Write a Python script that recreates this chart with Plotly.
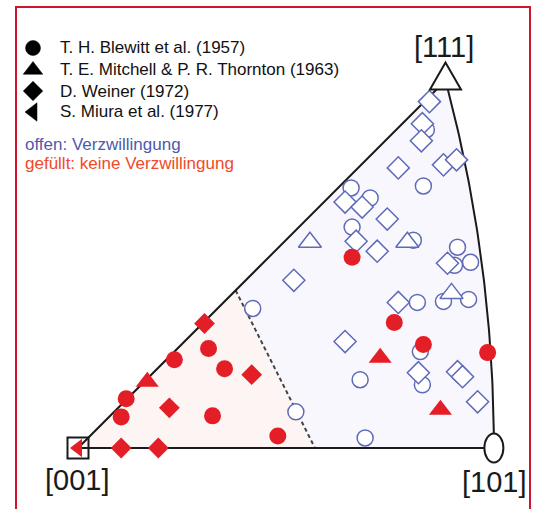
import numpy as np
import plotly.graph_objects as go

# ---------------- data (stereographic coordinates, [001] at origin) ----------------
authors = ["T. H. Blewitt et al. (1957)",
           "T. E. Mitchell & P. R. Thornton (1963)",
           "D. Weiner (1972)",
           "S. Miura et al. (1977)"]
symbols = ["circle", "triangle-up", "diamond", "triangle-left"]

# open = twinning (Verzwillingung), filled = no twinning
blewitt_twin_x = [0.174, 0.217, 0.286, 0.281, 0.273, 0.334, 0.378, 0.375, 0.391, 0.338, 0.364,
                  0.389, 0.341, 0.343, 0.347, 0.344, 0.272, 0.291]
blewitt_twin_y = [0.139, 0.036, 0.010, 0.068, 0.220, 0.207, 0.200, 0.182, 0.185, 0.145, 0.146,
                  0.148, 0.096, 0.063, 0.317, 0.261, 0.259, 0.249]
blewitt_notwin_x = [0.043, 0.048, 0.096, 0.130, 0.146, 0.134, 0.199, 0.273, 0.315, 0.344, 0.408]
blewitt_notwin_y = [0.031, 0.049, 0.088, 0.099, 0.079, 0.032, 0.012, 0.190, 0.125, 0.103, 0.095]

mitchell_twin_x = [0.231, 0.328, 0.372]
mitchell_twin_y = [0.205, 0.205, 0.154]
mitchell_notwin_x = [0.069, 0.301, 0.361]
mitchell_notwin_y = [0.066, 0.090, 0.038]

weiner_twin_x = [0.266, 0.215, 0.277, 0.298, 0.308, 0.368, 0.319, 0.339, 0.378, 0.383, 0.398,
                 0.350, 0.343, 0.342, 0.319, 0.364, 0.377, 0.266, 0.283]
weiner_twin_y = [0.106, 0.167, 0.206, 0.196, 0.228, 0.184, 0.145, 0.075, 0.076, 0.071, 0.046,
                 0.345, 0.323, 0.306, 0.279, 0.282, 0.287, 0.245, 0.240]
weiner_notwin_x = [0.043, 0.080, 0.126, 0.173, 0.091]
weiner_notwin_y = [0.000, 0.000, 0.124, 0.073, 0.040]

miura_notwin_x = [0.000]
miura_notwin_y = [0.000]

# boundary (dashed) between the two orientation regions
boundary_x = [0.157, 0.236]
boundary_y = [0.157, 0.000]

pole_names = ["[001]", "[101]", "[111]"]
pole_dirs = [(0, 0, 1), (1, 0, 1), (1, 1, 1)]

legend_note_twin = "offen: Verzwillingung"
legend_note_notwin = "gefüllt: keine Verzwillingung"

# ---------------- geometry ----------------
def stereo(v):
    v = np.asarray(v, float)
    v = v / np.linalg.norm(v)
    return v[0] / (1 + v[2]), v[1] / (1 + v[2])

P = {n: stereo(d) for n, d in zip(pole_names, pole_dirs)}
x001, y001 = P["[001]"]
x101, y101 = P["[101]"]
x111, y111 = P["[111]"]

# great circle [101]-[111]: projected circle centred at (-1,0), radius sqrt(2)
phi_end = np.arctan2(y111, x111 + 1)
phi = np.linspace(0, phi_end, 60)
arc_x = -1 + np.sqrt(2) * np.cos(phi)
arc_y = np.sqrt(2) * np.sin(phi)

edge_x = [x001, x111] + list(arc_x[::-1]) + [x001]
edge_y = [y001, y111] + list(arc_y[::-1]) + [y001]

pink_x = [x001, boundary_x[0], boundary_x[1], x001]
pink_y = [y001, boundary_y[0], boundary_y[1], y001]
lav_x = [boundary_x[1], boundary_x[0], x111] + list(arc_x[::-1]) + [boundary_x[1]]
lav_y = [boundary_y[1], boundary_y[0], y111] + list(arc_y[::-1]) + [boundary_y[1]]

# ---------------- styling / layout constants ----------------
BLUE = "#5f6ab8"
RED = "#e41e26"
INK = "#1a1a1a"
FONT = "Liberation Sans, Arial, sans-serif"
PX = 1004.0          # pixels per projection unit
X0, Y0 = 78, 448     # pixel position of [001]
W, H = 537, 509
LEG_SYM_X = 33
LEG_TXT_X = 58
LEG_ROWS = [48, 70, 91, 112]
LEG_SIZES = [15, 17, 15, 16]


def px2x(px):
    return (px - X0) / PX


def px2y(py):
    return (Y0 - py) / PX


fig = go.Figure()

fig.add_trace(go.Scatter(x=pink_x, y=pink_y, fill="toself", fillcolor="#fdf5f4",
                         mode="none", showlegend=False, hoverinfo="skip"))
fig.add_trace(go.Scatter(x=lav_x, y=lav_y, fill="toself", fillcolor="#f8f7fd",
                         mode="none", showlegend=False, hoverinfo="skip"))
fig.add_trace(go.Scatter(x=boundary_x, y=boundary_y, mode="lines",
                         line=dict(color="#444444", width=2, dash="4px,3px"),
                         showlegend=False, hoverinfo="skip"))
fig.add_trace(go.Scatter(x=edge_x, y=edge_y, mode="lines",
                         line=dict(color=INK, width=2),
                         showlegend=False, hoverinfo="skip"))


def open_pts(x, y, sym, size, name):
    fig.add_trace(go.Scatter(x=x, y=y, mode="markers", showlegend=False, name=name,
                             marker=dict(symbol=sym, size=size, color="white",
                                         line=dict(color=BLUE, width=1.5))))


def filled_pts(x, y, sym, size, name):
    fig.add_trace(go.Scatter(x=x, y=y, mode="markers", showlegend=False, name=name,
                             marker=dict(symbol=sym, size=size, color=RED,
                                         line=dict(width=0))))


open_pts(blewitt_twin_x, blewitt_twin_y, "circle", 16, authors[0])
open_pts(mitchell_twin_x, mitchell_twin_y, "triangle-up", 20, authors[1])
open_pts(weiner_twin_x, weiner_twin_y, "diamond", 17, authors[2])

# [001] pole marker
fig.add_trace(go.Scatter(x=[x001], y=[y001], mode="markers", showlegend=False,
                         marker=dict(symbol="square-open", size=21, color=INK,
                                     line=dict(width=2))))

filled_pts(blewitt_notwin_x, blewitt_notwin_y, "circle", 17, authors[0])
filled_pts(mitchell_notwin_x, mitchell_notwin_y, "triangle-up", 20, authors[1])
filled_pts(weiner_notwin_x, weiner_notwin_y, "diamond", 16, authors[2])
filled_pts(miura_notwin_x, miura_notwin_y, "triangle-left", 16, authors[3])

# legend key symbols (black)
fig.add_trace(go.Scatter(x=[px2x(LEG_SYM_X)] * 4, y=[px2y(r) for r in LEG_ROWS],
                         mode="markers", showlegend=False, hoverinfo="skip",
                         marker=dict(symbol=symbols, size=LEG_SIZES, color="#000000",
                                     opacity=1, line=dict(color="#000000", width=0.5))))

# [101] pole: ellipse ; [111] pole: open equilateral triangle
ew, eh = 9.5 / PX, 14.5 / PX
ts, th = 15.5 / PX, 27 / PX
tri_path = (f"M {x111 - ts},{y111 - th / 3} L {x111 + ts},{y111 - th / 3} "
            f"L {x111},{y111 + 2 * th / 3} Z")
shapes = [dict(type="circle", xref="x", yref="y", x0=x101 - ew, x1=x101 + ew,
               y0=y101 - eh, y1=y101 + eh, line=dict(color=INK, width=2),
               fillcolor="white", layer="above"),
          dict(type="path", xref="x", yref="y", path=tri_path,
               line=dict(color=INK, width=2), fillcolor="white", layer="above"),
          dict(type="path", xref="paper", yref="paper",
               path=f"M {16/W},-0.05 L {16/W},{1-7/H} L {530/W},{1-7/H} L {530/W},-0.05",
               line=dict(color="#d0142c", width=2))]

annotations = [
    dict(x=x111, y=y111, xref="x", yref="y", text="[111]", showarrow=False,
         yshift=34, xshift=-1, font=dict(family=FONT, size=29, color=INK)),
    dict(x=x001, y=y001, xref="x", yref="y", text="[001]", showarrow=False,
         yshift=-32, xshift=-1, font=dict(family=FONT, size=29, color=INK)),
    dict(x=x101, y=y101, xref="x", yref="y", text="[101]", showarrow=False,
         yshift=-34, xshift=1, font=dict(family=FONT, size=29, color=INK)),
    dict(x=23 / W, y=1 - 144 / H, xref="paper", yref="paper", xanchor="left",
         yanchor="middle", text=legend_note_twin, showarrow=False,
         font=dict(family=FONT, size=17, color="#4d5aad")),
    dict(x=23 / W, y=1 - 163 / H, xref="paper", yref="paper", xanchor="left",
         yanchor="middle", text=legend_note_notwin, showarrow=False,
         font=dict(family=FONT, size=17, color="#f04a2a")),
]
for name, row in zip(authors, LEG_ROWS):
    annotations.append(dict(x=LEG_TXT_X / W, y=1 - row / H, xref="paper", yref="paper",
                            xanchor="left", yanchor="middle", text=name, showarrow=False,
                            font=dict(family=FONT, size=17, color="#111111")))

fig.update_layout(
    width=W, height=H, margin=dict(l=0, r=0, t=0, b=0),
    paper_bgcolor="white", plot_bgcolor="white",
    xaxis=dict(range=[-X0 / PX, (W - X0) / PX], visible=False, fixedrange=True),
    yaxis=dict(range=[(Y0 - H) / PX, Y0 / PX], visible=False, fixedrange=True),
    shapes=shapes, annotations=annotations,
    showlegend=False,
)

fig.write_html("out.html", config={"displayModeBar": False},
               post_script="document.body.style.margin='0';")
